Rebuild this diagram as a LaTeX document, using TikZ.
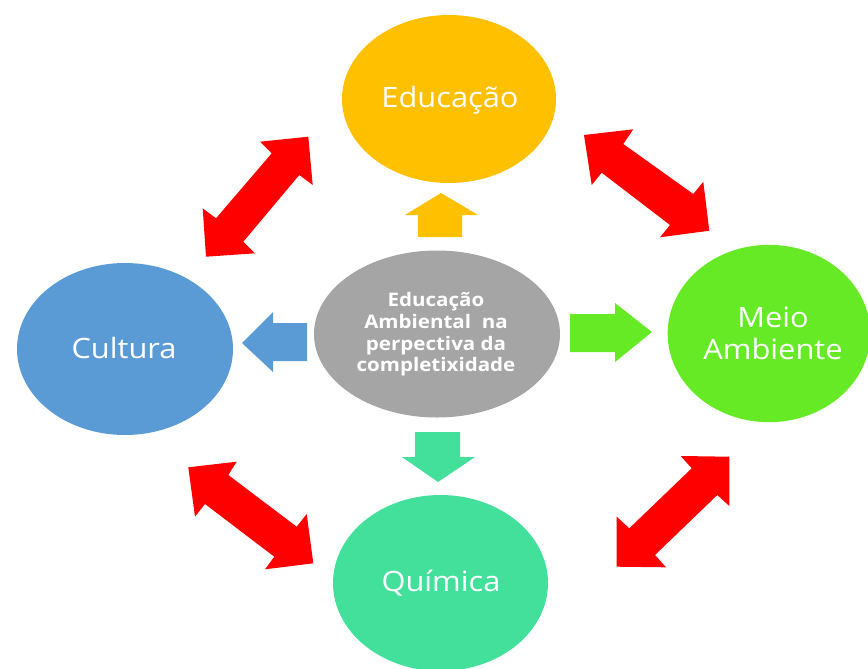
\documentclass[tikz,border=0pt]{standalone}
\usepackage{fontspec}
\setmainfont{Open Sans}[FakeStretch=1.1]
\usetikzlibrary{shapes.geometric}
\definecolor{cOrange}{HTML}{FFC000}
\definecolor{cBlue}{HTML}{5B9BD5}
\definecolor{cGrey}{HTML}{A5A5A5}
\definecolor{cGreen}{HTML}{66EA25}
\definecolor{cTeal}{HTML}{43E09C}
\definecolor{cRed}{HTML}{FF0000}
\tikzset{
  blob/.style={ellipse, inner sep=0pt},
  lbl/.style={text=white, align=center, inner sep=0pt, font=\fontsize{21}{24}\selectfont},
  redarrow/.style={fill=cRed, draw=none},
}
\begin{document}
\begin{tikzpicture}[x=0.75pt,y=-0.75pt]
\useasboundingbox (0,0) rectangle (868,668);
\fill[white] (0,0) rectangle (868,668);
% ellipses
\node[blob, fill=cOrange, minimum width=160.5pt, minimum height=126pt] (edu) at (449,99) {};
\node[lbl, anchor=base] (edut) at (450,107) {Educação};
\node[blob, fill=cBlue, minimum width=162pt, minimum height=129pt] (cul) at (125,349) {};
\node[lbl, anchor=base] (cult) at (124,358) {Cultura};
\node[blob, fill=cGreen, minimum width=152pt, minimum height=133pt] (mei) at (769,333.5) {};
\node[lbl] (meit) at (773,333) {Meio\\Ambiente};
\node[blob, fill=cTeal, minimum width=161.25pt, minimum height=132pt] (qui) at (440.5,583) {};
\node[lbl, anchor=base] (quit) at (441,591) {Química};
\node[blob, fill=cGrey, minimum width=184.5pt, minimum height=125.25pt] (cen) at (437,334) {};
\node[align=center, text=white, font=\bfseries\fontsize{14}{16.2}\selectfont] (cent) at (436,334.5) {Educação\\Ambiental\ \ na\\perpectiva da\\completixidade};
% small arrows
\fill[cOrange] (441,193) -- (478,215) -- (462,215) -- (462,237) -- (418,237) -- (418,215) -- (405,215) -- cycle;
\fill[cBlue] (242,343) -- (273,312) -- (273,323) -- (307,323) -- (307,361) -- (273,361) -- (273,372) -- cycle;
\fill[cGreen] (652,332) -- (615,303) -- (615,314) -- (570,314) -- (570,352) -- (615,352) -- (615,362) -- cycle;
\fill[cTeal] (438,482) -- (475,457) -- (460,457) -- (460,432) -- (415,432) -- (415,457) -- (402,457) -- cycle;
% red double arrows
\fill[redarrow] (308.3,136.7) -- (312.7,185) -- (299.3,175) -- (243.3,241.7) -- (255,253.3) -- (206,256.7) -- (202.7,208.3) -- (216,218.3) -- (271.7,153.3) -- (260,141.7) -- cycle;
\fill[redarrow] (584,135) -- (633.3,129.3) -- (623.3,144) -- (693.3,194) -- (703.3,181.7) -- (709.3,230.7) -- (660,237.3) -- (670,225) -- (601.7,172.7) -- (591.7,185) -- cycle;
\fill[redarrow] (188.3,467.3) -- (236.7,461.7) -- (228.3,475) -- (296.7,526.7) -- (306.7,514) -- (313.3,563.3) -- (265,569.3) -- (274.3,556.7) -- (205,504) -- (195,516.7) -- cycle;
\fill[redarrow] (729.3,456.7) -- (680.7,456) -- (691.7,468.3) -- (629.3,528.3) -- (616.7,516.7) -- (616.7,566.7) -- (666,567.3) -- (655,555) -- (717.3,495) -- (729.3,506) -- cycle;
\end{tikzpicture}
\end{document}
